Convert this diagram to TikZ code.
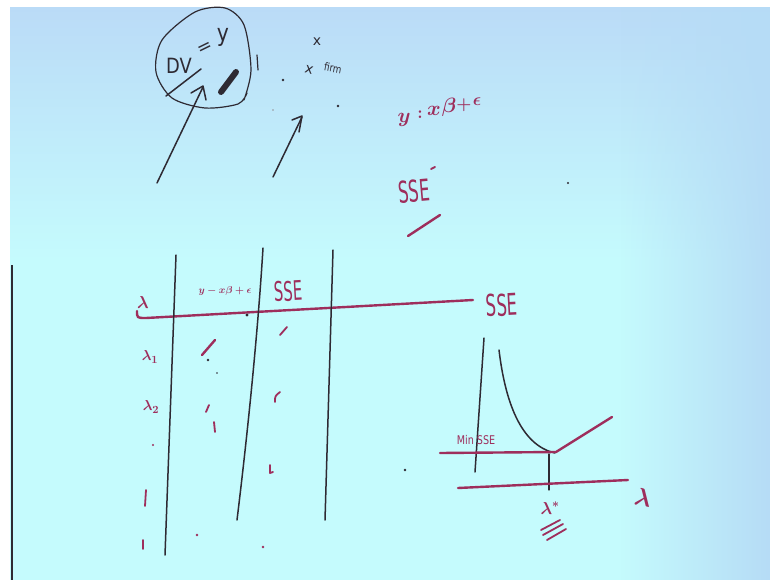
\documentclass[tikz,border=0pt]{standalone}
\usepackage{fontspec}
\setmainfont{DejaVu Sans}
\usetikzlibrary{fadings}
\definecolor{inkdark}{HTML}{2E2A33}
\definecolor{inkred}{HTML}{9E2E5C}
\definecolor{bgA}{HTML}{BADAF7}
\definecolor{bgB}{HTML}{B6DCF6}
\definecolor{bgC}{HTML}{C5FBFD}
\begin{document}
\begin{tikzpicture}[x=1pt,y=-1pt,
  ink/.style={draw=inkdark,line width=1.5pt,line cap=round,line join=round},
  rink/.style={draw=inkred,line width=2.4pt,line cap=round,line join=round},
  rtxt/.style={text=inkred,inner sep=0pt},
  dtxt/.style={text=inkdark,inner sep=0pt}]
\useasboundingbox (0,0) rectangle (770,580);
\fill[bgC] (0,0) rectangle (770,580);
\shade[top color=bgA, bottom color=bgC] (0,0) rectangle (770,260);
\fill[bgB, path fading=west] (620,0) rectangle (770,580);
\fill[white] (0,0) rectangle (770,7);
\fill[white] (0,0) rectangle (10,580);
\draw[draw=inkdark,line width=2.5pt] (12,265) -- (12,580);
% circle around DV = y
\draw[ink,line width=1.2pt] plot[smooth] coordinates {(244,100) (251,70) (244,25) (225,8) (195,12) (162,40) (156,72) (172,98) (205,108) (238,104) (247,93)};
\node[dtxt,font=\fontsize{21}{21}\selectfont] (dv) at (179,66) {\scalebox{0.85}[1]{DV}};
\node[dtxt,rotate=26,font=\fontsize{18}{18}\selectfont] (eq) at (205,49) {=};
\node[dtxt,font=\fontsize{24}{24}\selectfont] (yy) at (223,37) {\scalebox{0.85}[1]{y}};
\draw[ink] (166,96) -- (201,69);
\draw[ink,line width=6pt] (221,92) -- (236,72);
% arrows
\draw[ink] (157,183) -- (203,87);
\draw[ink] (191,93) -- (203,86) -- (206,100);
\draw[ink] (273,177) -- (302,117);
\draw[ink] (292,120) -- (302,116) -- (299,132);
\draw[ink,line width=1.2pt] (257,55) -- (258,70);
\fill[inkdark] (283,80) circle (1.4);
\fill[inkdark] (338,106) circle (1.4);
\fill[inkdark!50] (273,110) circle (0.8);
\fill[inkdark] (568,183) circle (1.2);
\fill[inkdark] (405,470) circle (1.3);
\node[dtxt,font=\fontsize{14}{14}\selectfont] (xa) at (317,42) {x};
\node[dtxt,rotate=-15,font=\fontsize{14}{14}\selectfont] (xb) at (309,70) {x};
\node[dtxt,rotate=-10,font=\fontsize{11}{11}\selectfont] (firm) at (333,68) {\scalebox{0.8}[1]{firm}};
% y = x beta + e
\node[rtxt,font=\fontsize{22}{22}\selectfont\boldmath] (my) at (404,120) {$y$};
\node[rtxt,font=\fontsize{18}{18}\selectfont\boldmath] (mc) at (420,115) {$:$};
\node[rtxt,font=\fontsize{20}{20}\selectfont\boldmath] (mx) at (434,111) {$x$};
\node[rtxt,font=\fontsize{20}{20}\selectfont\boldmath] (mb) at (449,107) {$\beta$};
\node[rtxt,font=\fontsize{16}{16}\selectfont\boldmath] (mp) at (464,105) {$+$};
\node[rtxt,font=\fontsize{18}{18}\selectfont\boldmath] (me) at (477,102) {$\epsilon$};
% SSE underlined
\node[rtxt,rotate=5,font=\fontsize{30}{30}\selectfont] (sse1) at (414,191) {\scalebox{0.55}[1]{SSE}};
\draw[rink,line width=1.8pt] (431,169) -- (435,167);
\draw[rink] (408,236) -- (440,215);
% table
\draw[rink] (137,311) .. controls (137,318) .. (146,318) -- (473,300);
\draw[ink] (176,255) -- (165,555);
\draw[ink] (263,248) .. controls (258,330) and (248,430) .. (237,520);
\draw[ink] (333,250) -- (325,520);
\fill[inkdark] (247,315) circle (1.6);
\node[rtxt,font=\fontsize{10}{10}\selectfont\boldmath] (hdr1) at (225,291) {$y-x\beta+\epsilon$};
\node[rtxt,rotate=3,font=\fontsize{27}{27}\selectfont] (hdr2) at (288,291) {\scalebox{0.55}[1]{SSE}};
\node[rtxt,font=\fontsize{18}{18}\selectfont\boldmath] (lam) at (143,302) {$\lambda$};
\node[rtxt,font=\fontsize{15}{15}\selectfont\boldmath] (lam1) at (150,357) {$\lambda_1$};
\node[rtxt,font=\fontsize{15}{15}\selectfont\boldmath] (lam2) at (151,407) {$\lambda_2$};
% row marks
\fill[inkred] (153,445) circle (1.2);
\draw[rink,line width=1.8pt] (146,490) -- (145,506);
\draw[rink,line width=1.8pt] (143,540) -- (143,549);
\draw[rink] (202,355) -- (215,340);
\fill[inkdark] (208,360) circle (1.3);
\fill[inkdark] (217,373) circle (0.9);
\draw[rink,line width=1.8pt] (206,412) -- (209,405);
\draw[rink,line width=1.8pt] (214,422) -- (215,432);
\fill[inkred] (197,535) circle (1.4);
\draw[rink,line width=1.8pt] (280,335) -- (287,327);
\draw[rink,line width=1.8pt] (275,402) .. controls (275,396) .. (280,392);
\draw[rink,line width=1.8pt] (270,465) -- (270,473) -- (273,472);
\fill[inkred] (263,547) circle (1.3);
% right graph
\node[rtxt,rotate=3,font=\fontsize{30}{30}\selectfont] (sse2) at (502,305) {\scalebox{0.55}[1]{SSE}};
\draw[ink] (484,338) -- (475,472);
\draw[ink] (499,350) .. controls (505,400) and (520,445) .. (555,453);
\draw[rink] (440,453) -- (556,452) -- (612,417);
\node[rtxt,font=\fontsize{12}{12}\selectfont] (minsse) at (476,440) {\scalebox{0.8}[1]{Min SSE}};
\draw[ink,line width=1.2pt] (549,454) -- (549,490);
\draw[rink] (458,488) -- (628,480);
\node[rtxt,rotate=-10,font=\fontsize{30}{30}\selectfont\boldmath] (lamr) at (643,497) {$\lambda$};
\node[rtxt,font=\fontsize{18}{18}\selectfont\boldmath] (lamstar) at (550,508) {$\lambda^{*}$};
\draw[rink,line width=1.8pt] (541,530) -- (560,520);
\draw[rink,line width=1.8pt] (543,535) -- (563,524);
\draw[rink,line width=1.8pt] (547,540) -- (566,529);
\end{tikzpicture}
\end{document}
